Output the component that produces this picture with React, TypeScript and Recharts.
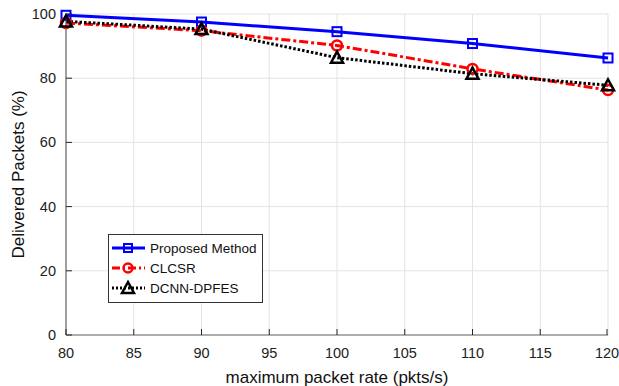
import React from "react";
import { LineChart, Line, XAxis, YAxis, CartesianGrid } from "recharts";

const rates = [80, 90, 100, 110, 120];
const proposed = [99.6, 97.5, 94.5, 90.8, 86.3];
const clcsr = [97.2, 94.8, 90.2, 82.9, 76.3];
const dcnn = [97.7, 95.3, 86.4, 81.4, 77.8];
const xTicks = [80, 85, 90, 95, 100, 105, 110, 115, 120];
const yTicks = [0, 20, 40, 60, 80, 100];
const seriesNames = ["Proposed Method", "CLCSR", "DCNN-DPFES"];

const data = rates.map((r, i) => ({ rate: r, proposed: proposed[i], clcsr: clcsr[i], dcnn: dcnn[i] }));

const FONT = "Liberation Sans, Arial, sans-serif";
const AXIS = "#6a6a6a";
const TICK = "#262626";

const Square = (props: any) => {
  const { cx, cy, key } = props;
  if (cx == null || cy == null) return null;
  return <rect key={key} x={cx - 4.5} y={cy - 4.5} width={9} height={9} fill="none" stroke="#0000ff" strokeWidth={2} />;
};
const Circle = (props: any) => {
  const { cx, cy, key } = props;
  if (cx == null || cy == null) return null;
  return <circle key={key} cx={cx} cy={cy} r={5} fill="none" stroke="#ff0000" strokeWidth={2.5} />;
};
const Tri = (props: any) => {
  const { cx, cy, key } = props;
  if (cx == null || cy == null) return null;
  return <polygon key={key} points={`${cx},${cy - 6} ${cx - 6},${cy + 5} ${cx + 6},${cy + 5}`} fill="none" stroke="#000" strokeWidth={2.5} />;
};

const BottomTick = (props: any) => {
  const { x, y, payload } = props;
  return (
    <g>
      <line x1={x} y1={y} x2={x} y2={y - 6} stroke={TICK} strokeWidth={1} />
      <text x={x} y={y + 22.5} textAnchor="middle" fontSize={14.5} fontFamily={FONT} fill="#222">{payload.value}</text>
    </g>
  );
};
const TopTick = (props: any) => {
  const { x, y } = props;
  return <line x1={x} y1={y} x2={x} y2={y + 6} stroke={TICK} strokeWidth={1} />;
};
const LeftTick = (props: any) => {
  const { x, y, payload } = props;
  return (
    <g>
      <line x1={x} y1={y} x2={x + 6} y2={y} stroke={TICK} strokeWidth={1} />
      <text x={x - 10} y={y + 5} textAnchor="end" fontSize={14.5} fontFamily={FONT} fill="#222">{payload.value}</text>
    </g>
  );
};
const RightTick = (props: any) => {
  const { x, y } = props;
  return <line x1={x} y1={y} x2={x - 6} y2={y} stroke={TICK} strokeWidth={1} />;
};

const LegendBox = () => {
  const items = [
    { label: seriesNames[0], color: "#0000ff", dash: undefined, marker: "sq" },
    { label: seriesNames[1], color: "#ff0000", dash: "8 3 2 3", marker: "ci" },
    { label: seriesNames[2], color: "#000", dash: "2 2", marker: "tr" },
  ];
  return (
    <svg width={155} height={69} style={{ display: "block" }}>
      <rect x={0.5} y={0.5} width={154} height={68} fill="#fff" stroke="#333" strokeWidth={1} />
      {items.map((it, i) => {
        const cy = 14 + i * 20;
        const cx = 20;
        return (
          <g key={it.label}>
            <line x1={4} y1={cy} x2={37} y2={cy} stroke={it.color} strokeWidth={3} strokeDasharray={it.dash} />
            {it.marker === "sq" && <rect x={cx - 4} y={cy - 4} width={8} height={8} fill="none" stroke={it.color} strokeWidth={2} />}
            {it.marker === "ci" && <circle cx={cx} cy={cy} r={4.5} fill="none" stroke={it.color} strokeWidth={2.5} />}
            {it.marker === "tr" && <polygon points={`${cx},${cy - 6} ${cx - 6},${cy + 5} ${cx + 6},${cy + 5}`} fill="none" stroke={it.color} strokeWidth={2.5} />}
            <text x={42} y={cy + 5} fontSize={13.5} fontFamily={FONT} fill="#111">{it.label}</text>
          </g>
        );
      })}
    </svg>
  );
};

export default function App() {
  return (
    <div style={{ position: "absolute", left: 0, top: 0, width: 619, height: 386, background: "#fff" }}>
      <LineChart width={619} height={386} data={data} margin={{ top: 14, right: 11, left: 0, bottom: 0 }}>
        <CartesianGrid stroke="#e3e3e3" strokeWidth={1} xAxisId="bottom" yAxisId="left" />
        <XAxis
          xAxisId="bottom"
          dataKey="rate"
          type="number"
          domain={[80, 120]}
          ticks={xTicks}
          height={51}
          tickSize={0}
          tickMargin={0}
          tick={<BottomTick />}
          axisLine={{ stroke: AXIS, strokeWidth: 1.2 }}
          label={{ value: "maximum packet rate (pkts/s)", position: "insideBottom", offset: 3, fontSize: 17, fontFamily: FONT, fill: "#111" }}
        />
        <XAxis
          xAxisId="top"
          orientation="top"
          dataKey="rate"
          type="number"
          domain={[80, 120]}
          ticks={xTicks}
          height={0}
          tickSize={0}
          tickMargin={0}
          tick={<TopTick />}
          axisLine={{ stroke: AXIS, strokeWidth: 1.2 }}
        />
        <YAxis
          yAxisId="left"
          domain={[0, 100]}
          ticks={yTicks}
          width={66}
          tickSize={0}
          tickMargin={0}
          tick={<LeftTick />}
          axisLine={{ stroke: AXIS, strokeWidth: 1.2 }}
          label={{ value: "Delivered Packets (%)", angle: -90, position: "insideLeft", offset: 18, fontSize: 17, fontFamily: FONT, fill: "#111", style: { textAnchor: "middle" } }}
        />
        <YAxis
          yAxisId="right"
          orientation="right"
          domain={[0, 100]}
          ticks={yTicks}
          width={0}
          tickSize={0}
          tickMargin={0}
          tick={<RightTick />}
          axisLine={{ stroke: AXIS, strokeWidth: 1.2 }}
        />
        <Line xAxisId="bottom" yAxisId="left" name={seriesNames[0]} dataKey="proposed" stroke="#0000ff" strokeWidth={3} dot={<Square />} isAnimationActive={false} />
        <Line xAxisId="bottom" yAxisId="left" name={seriesNames[1]} dataKey="clcsr" stroke="#ff0000" strokeWidth={3} strokeDasharray="9 3 3 3" dot={<Circle />} isAnimationActive={false} />
        <Line xAxisId="bottom" yAxisId="left" name={seriesNames[2]} dataKey="dcnn" stroke="#000" strokeWidth={3} strokeDasharray="2.5 2" dot={<Tri />} isAnimationActive={false} />
      </LineChart>
      <div style={{ position: "absolute", left: 108, top: 234 }}>
        <LegendBox />
      </div>
    </div>
  );
}
